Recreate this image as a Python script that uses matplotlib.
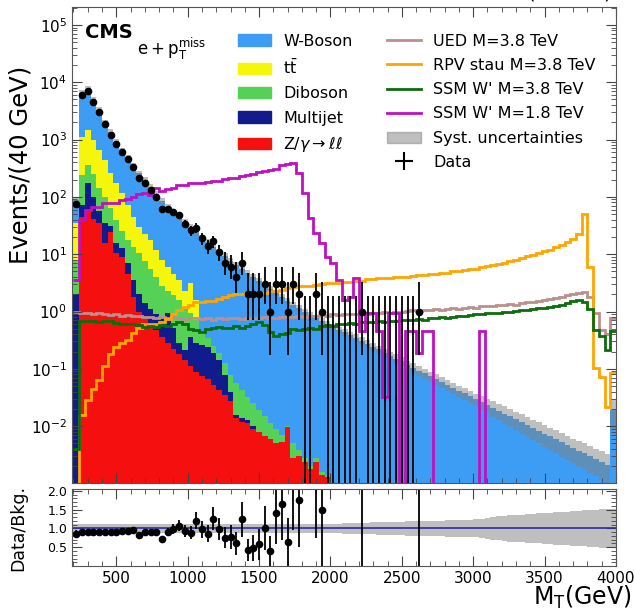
import numpy as np
import matplotlib
matplotlib.use('Agg')
import matplotlib.pyplot as plt
from matplotlib.patches import Patch
from matplotlib.lines import Line2D
from matplotlib.ticker import MultipleLocator, LogLocator, NullFormatter

# 40 GeV bins from 200 to 4000 GeV (last bin holds the overflow)
edges = np.arange(200, 4001, 40)
nbins = len(edges) - 1

##backgrounds, events per bin
zgamma = [0, 44.7, 56.2, 41.7, 35.5, 15.8, 24.0, 10.5, 8.9, 4.47,
          1.78, 1.0, 0.76, 0.56, 0.47, 0.355, 0.28, 0.224, 0.178, 0.141,
          0.112, 0.089, 0.076, 0.066, 0.0525, 0.043, 0.0355, 0.028, 0.0141, 0.012,
          0.0112, 0.0089, 0.0079, 0.0068, 0.0060, 0.0050, 0.0052, 0.0095, 0.0028, 0.0030,
          0.0024, 0.0018, 0.0024, 0.0014, 0.0013]
multijet = [2.0, 26.1, 118, 58.3, 20.7, 19.7, 7.6, 5.3, 3.7, 2.61,
            1.77, 1.0, 0.65, 0.56, 0.42, 0.44, 0.67, 0.30, 0.104, 0.073,
            0.251, 0.193, 0.187, 0.174, 0.138, 0.098, 0.044, 0.0116, 0.0017, 0.0018,
            0.0014, 0.0011]
diboson = [5.9, 169, 189, 151, 85.1, 64.5, 31.5, 24.0, 12.5, 10.7,
           9.65, 8.5, 6.18, 4.50, 3.09, 2.03, 1.29, 1.38, 1.30, 0.91,
           0.57, 0.426, 0.184, 0.099, 0.060, 0.050, 0.046, 0.040, 0.0404, 0.0289,
           0.0198, 0.0151, 0.0112, 0.0083, 0.0052, 0.0039, 0.0019, 0.0005, 0.0022, 0.0008,
           0.0004, 0.0002, 0.0004, 0.0002, 0.0001, 0.0008]
ttbar = [27.6, 882, 1082, 749, 519, 336, 200, 134, 89.7, 53.0,
         31.5, 19.7, 15.3, 12.2, 7.7, 5.12, 3.79, 2.67, 1.96, 1.12,
         2.23, 0.877]
wboson = [53.6, 5335, 6141, 3898, 2575, 1559, 1086, 738, 516, 408,
          302, 227, 172, 130, 100, 77.2, 61.6, 50.4, 41.1, 34.1,
          26.3, 22.4, 19.05, 15.9, 13.2, 11.0, 9.20, 7.68, 6.55, 5.58,
          4.76, 4.05, 3.45, 2.94, 2.50, 2.13, 1.81, 1.54, 1.31, 1.14,
          0.997, 0.869, 0.773, 0.674, 0.601, 0.536, 0.479, 0.437, 0.389, 0.347,
          0.309, 0.275, 0.245, 0.219, 0.191, 0.170, 0.151, 0.135, 0.117, 0.105,
          0.0933, 0.0832, 0.0741, 0.0661, 0.0589, 0.0525, 0.0468, 0.0417, 0.0372, 0.0331,
          0.0295, 0.0263, 0.0234, 0.0209, 0.0186, 0.0166, 0.0148, 0.0132, 0.0117, 0.0105,
          0.00933, 0.00832, 0.00741, 0.00661, 0.00589, 0.00525, 0.00468, 0.00417, 0.00372, 0.00339,
          0.00302, 0.00269, 0.00240, 0.00214, 0.0191]

# relative systematic uncertainty on the total background
syst = [0.12] * 45 + [0.125, 0.13, 0.135, 0.14, 0.145, 0.15, 0.155, 0.16, 0.165, 0.17,
                      0.175, 0.18, 0.185, 0.19, 0.195, 0.20, 0.20, 0.205, 0.21, 0.21,
                      0.215, 0.22, 0.22, 0.225, 0.23, 0.24, 0.26, 0.28, 0.30, 0.32,
                      0.33, 0.35, 0.36, 0.37, 0.38, 0.39, 0.40, 0.41, 0.42, 0.43,
                      0.44, 0.45, 0.46, 0.47, 0.48, 0.49, 0.50, 0.51, 0.52, 0.53]

##signals
ssm18 = [3.5, 39.8, 58.9, 67.6, 67.6, 77.6, 79.4, 77.6, 89.1, 93.3,
         100, 110, 115, 107, 141, 126, 135, 141, 162, 162,
         174, 174, 174, 182, 191, 191, 204, 214, 214, 234,
         245, 251, 269, 282, 295, 309, 355, 372, 389, 263,
         117, 42.7, 23.4, 15.5, 9.1, 6.9, 3.55, 1.58, 1.82, 3.8,
         0.45, 0.93, 0.93, 0.45, 0.032, 0.93, 0.93, 0, 0.45, 0.45,
         0.19, 0.45, 0.45, 0, 0, 0, 0, 0, 0, 0,
         0, 0.45]
rpv = [0, 0.0158, 0.0282, 0.0447, 0.0631, 0.112, 0.178, 0.240, 0.282, 0.316,
       0.417, 0.525, 0.617, 0.617, 0.603, 0.661, 0.741, 0.891, 1.07, 1.20,
       1.32, 1.48, 1.48, 1.51, 1.51, 1.66, 1.82, 1.91, 2.00, 2.00,
       2.09, 2.09, 2.14, 2.14, 2.24, 2.29, 2.40, 2.57, 2.69, 2.75,
       2.75, 2.82, 2.88, 3.02, 3.09, 3.16, 3.16, 3.31, 3.31, 3.39,
       3.47, 3.63, 3.72, 3.80, 3.80, 3.89, 3.98, 4.07, 4.07, 4.17,
       4.27, 4.37, 4.47, 4.57, 4.68, 4.79, 5.01, 5.01, 5.25, 5.50,
       5.62, 5.89, 6.17, 6.46, 6.76, 7.08, 7.59, 7.94, 8.51, 9.12,
       9.77, 10.5, 11.2, 12.0, 13.2, 14.5, 16.2, 18.6, 22.9, 50.1,
       6.03, 0.102, 0.0724, 0.0219, 0.0832]
ued = [1.00, 0.933, 0.955, 0.891, 0.933, 0.912, 0.871, 0.891, 0.851, 0.871,
       0.832, 0.832, 0.794, 0.813, 0.776, 0.794, 0.759, 0.794, 0.776, 0.741,
       0.759, 0.776, 0.741, 0.759, 0.724, 0.759, 0.741, 0.776, 0.759, 0.741,
       0.759, 0.776, 0.759, 0.794, 0.776, 0.759, 0.794, 0.813, 0.794, 0.832,
       0.813, 0.851, 0.832, 0.871, 0.851, 0.891, 0.871, 0.891, 0.912, 0.891,
       0.933, 0.912, 0.955, 0.933, 0.977, 0.955, 1.00, 0.977, 1.02, 1.05,
       1.02, 1.07, 1.05, 1.10, 1.07, 1.12, 1.15, 1.12, 1.17, 1.20,
       1.17, 1.23, 1.26, 1.23, 1.29, 1.32, 1.35, 1.32, 1.38, 1.45,
       1.48, 1.55, 1.58, 1.66, 1.74, 1.82, 1.91, 2.00, 2.14, 2.19,
       1.82, 0.933, 0.479, 0.398, 0.776]
ssm38 = [0.004, 0.676, 0.692, 0.676, 0.661, 0.692, 0.676, 0.631, 0.617, 0.603,
         0.617, 0.575, 0.537, 0.562, 0.537, 0.575, 0.550, 0.603, 0.661, 0.603,
         0.501, 0.468, 0.447, 0.501, 0.525, 0.537, 0.513, 0.525, 0.550, 0.525,
         0.562, 0.603, 0.646, 0.575, 0.437, 0.380, 0.398, 0.417, 0.501, 0.479,
         0.490, 0.525, 0.501, 0.550, 0.575, 0.562, 0.603, 0.617, 0.631, 0.603,
         0.646, 0.661, 0.646, 0.676, 0.661, 0.692, 0.676, 0.708, 0.724, 0.708,
         0.741, 0.724, 0.759, 0.759, 0.794, 0.776, 0.813, 0.832, 0.851, 0.871,
         0.891, 0.912, 0.933, 0.955, 0.933, 0.977, 1.00, 1.02, 1.05, 1.07,
         1.10, 1.15, 1.17, 1.20, 1.26, 1.32, 1.41, 1.55, 1.62, 1.45,
         1.12, 0.479, 0.372, 0.214, 0.457]

##observed events (up to the last bin with an event)
data = [76, 5930, 6960, 4500, 2970, 1830, 1210, 820, 596, 452,
        334, 213, 175, 133, 101, 61, 61, 54, 48, 34,
        26, 29, 19, 14, 17, 11, 7, 6, 4, 7,
        2, 2, 2, 3, 1, 3, 3, 1, 3, 2,
        0, 0, 2, 1, 0, 0, 0, 0, 0, 0,
        1, 0, 0, 0, 0, 0, 0, 0, 0, 0,
        1]

# 68% Poisson intervals for small counts
garwood = {0: (0, 1.841), 1: (0.173, 3.300), 2: (0.708, 4.638), 3: (1.367, 5.918),
           4: (2.086, 7.163), 5: (2.840, 8.382), 6: (3.620, 9.584), 7: (4.419, 10.77),
           8: (5.232, 11.95), 9: (6.057, 13.11), 10: (6.891, 14.27)}


def pad(v):
    return np.array(list(v) + [0] * (nbins - len(v)), dtype=float)


def poisson_err(n):
    lo, hi = [], []
    for k in n:
        if k in garwood:
            a, b = garwood[k]
            lo.append(k - a); hi.append(b - k)
        else:
            lo.append(np.sqrt(k)); hi.append(np.sqrt(k))
    return np.array(lo), np.array(hi)


fig = plt.figure(figsize=(6.34, 6.10), dpi=100)
ax = fig.add_axes([0.1136, 0.2082, 0.8580, 0.7803])
rax = fig.add_axes([0.1136, 0.0721, 0.8580, 0.1262], sharex=ax)

c_w = '#3d9df5'
c_tt = '#f6f60a'
c_vv = '#55d155'
c_qcd = '#101c8e'
c_z = '#f50f0f'

layers = [(pad(zgamma), c_z), (pad(multijet), c_qcd), (pad(diboson), c_vv),
          (pad(ttbar), c_tt), (pad(wboson), c_w)]
floor = 1e-6
bottom = np.full(nbins, floor)
for vals, col in layers:
    top = bottom + vals
    ax.stairs(top, edges, baseline=bottom, fill=True, color=col, lw=0)
    bottom = top
total = bottom - floor
syst = np.array(syst)

# uncertainty band over the stack
ax.stairs(total * (1 + syst), edges, baseline=total * (1 - syst), fill=True,
          color='gray', alpha=0.5, lw=0)

ax.stairs(pad(ued), edges, baseline=None, color='#bc8f8f', lw=2)
ax.stairs(pad(rpv), edges, baseline=None, color='#ffa500', lw=2)
ax.stairs(pad(ssm38), edges, baseline=None, color='#0a6e0a', lw=2)
ax.stairs(pad(ssm18), edges, baseline=None, color='#c010c0', lw=2)

data = np.array(data)
centers = 0.5 * (edges[:-1] + edges[1:])
xd = centers[:len(data)]
lo, hi = poisson_err(data)
ax.errorbar(xd, data, yerr=[lo, hi], fmt='o', color='black', ms=4.5,
            elinewidth=1.3, capsize=0)

ax.set_yscale('log')
ax.set_ylim(1.02e-3, 2.05e5)
ax.set_xlim(190, 4000)
ax.set_ylabel('Events/(40 GeV)', fontsize=17.5)
ax.yaxis.set_label_coords(-0.072, 0.668)
ax.yaxis.set_major_locator(LogLocator(base=10, numticks=20))
ax.yaxis.set_minor_locator(LogLocator(base=10, subs=np.arange(2, 10), numticks=20))
ax.yaxis.set_minor_formatter(NullFormatter())
ax.xaxis.set_major_locator(MultipleLocator(500))
ax.xaxis.set_minor_locator(MultipleLocator(100))
plt.setp(ax.get_xticklabels(), visible=False)

for a in (ax, rax):
    a.tick_params(which='both', direction='in', top=True, right=True, labelsize=11)
    a.tick_params(which='major', length=7, color='#444444')
    a.tick_params(which='minor', length=3.5, color='#444444')
    for s in a.spines.values():
        s.set_color('#555555')
rax.tick_params(axis='y', labelsize=9)

ax.text(0.024, 0.935, 'CMS', transform=ax.transAxes, fontsize=14, fontweight='bold')
ax.text(0.12, 0.90, r'$\mathrm{e}+\mathrm{p}_\mathrm{T}^\mathrm{miss}$',
        transform=ax.transAxes, fontsize=12)
fig.text(0.965, 0.9934, '35.9 fb$^{-1}$ (13 TeV)', ha='right', va='bottom', fontsize=14)

bkg_handles = [Patch(color=c_w, label='W-Boson'),
               Patch(color=c_tt, label=r't$\bar{\mathrm{t}}$'),
               Patch(color=c_vv, label='Diboson'),
               Patch(color=c_qcd, label='Multijet'),
               Patch(color=c_z, label=r'Z/$\gamma\rightarrow\ell\ell$')]
sig_handles = [Line2D([], [], color='#bc8f8f', lw=2, label='UED M=3.8 TeV'),
               Line2D([], [], color='#ffa500', lw=2, label='RPV stau M=3.8 TeV'),
               Line2D([], [], color='#0a6e0a', lw=2, label="SSM W' M=3.8 TeV"),
               Line2D([], [], color='#c010c0', lw=2, label="SSM W' M=1.8 TeV"),
               Patch(color='gray', alpha=0.5, label='Syst. uncertainties'),
               Line2D([], [], color='black', marker='+', ms=13, mew=1.5, ls='none', label='Data')]
leg1 = ax.legend(handles=bkg_handles, loc='upper left', bbox_to_anchor=(0.305, 0.944),
                 frameon=False, fontsize=11.5, handlelength=2.1, handletextpad=0.75,
                 labelspacing=0.58, borderpad=0, borderaxespad=0)
ax.add_artist(leg1)
ax.legend(handles=sig_handles, loc='upper left', bbox_to_anchor=(0.579, 0.944),
          frameon=False, fontsize=11.5, handlelength=2.1, handletextpad=0.8,
          labelspacing=0.58, borderpad=0, borderaxespad=0)

##ratio panel
rax.stairs(1 + syst, edges, baseline=1 - syst, fill=True, color='gray', alpha=0.5, lw=0)
rax.axhline(1.0, color='#2b2ba8', lw=1.2)
obs = data > 0
bk = total[:len(data)]
ratio = data[obs] / bk[obs]
rerr = np.sqrt(data[obs]) / bk[obs]
rax.errorbar(xd[obs], ratio, yerr=rerr, fmt='o', color='black', ms=4.5,
             elinewidth=1.3, capsize=0)
rax.set_ylim(0, 2.05)
rax.set_yticks([0.5, 1.0, 1.5, 2.0])
rax.yaxis.set_minor_locator(MultipleLocator(0.1))
rax.set_ylabel('Data/Bkg.', fontsize=12.5)
rax.yaxis.set_label_coords(-0.083, 0.5)
rax.set_xlim(190, 4000)
fig.text(0.997, -0.002, r'M$_\mathrm{T}$(GeV)', ha='right', va='bottom', fontsize=17)

fig.savefig('out.png', dpi=100)
